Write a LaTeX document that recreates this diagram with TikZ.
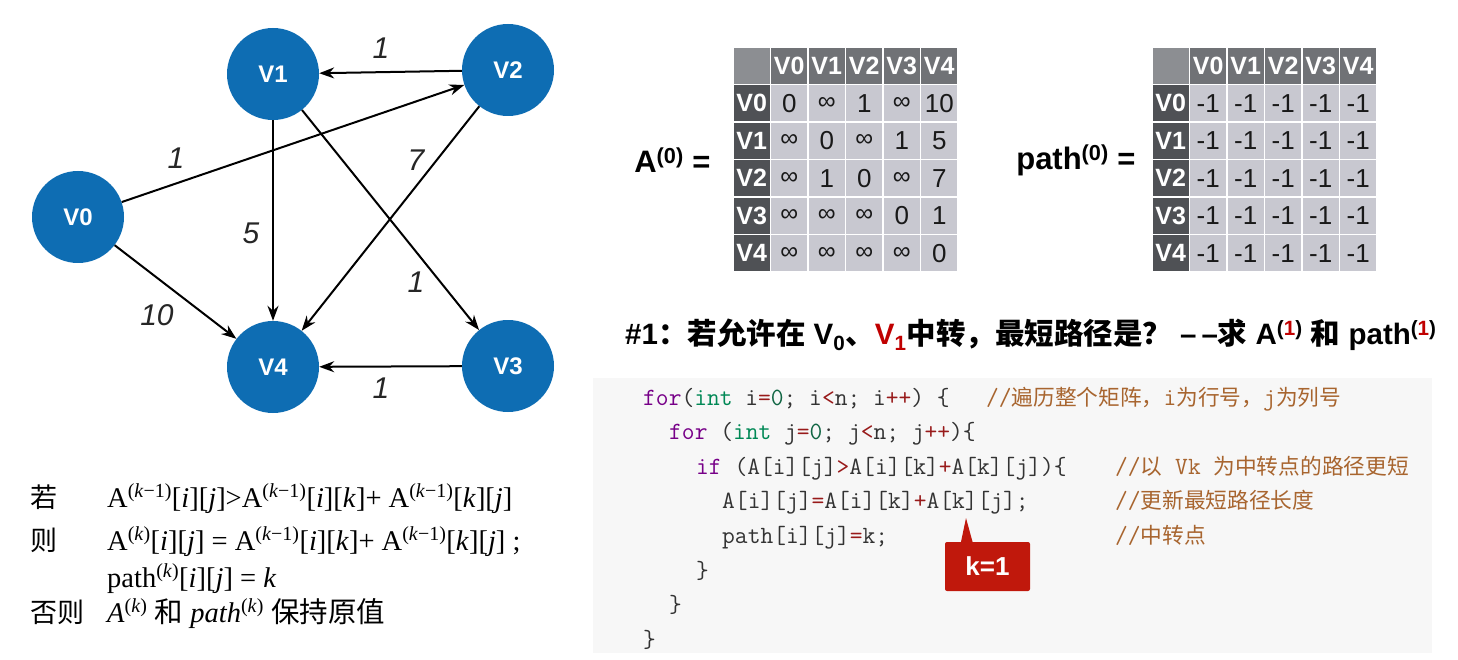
\documentclass[tikz,border=0pt]{standalone}
\usepackage{fontspec}
\setmainfont{Liberation Serif}
\setsansfont{Liberation Sans}
\newfontfamily\cjk{Noto Sans CJK SC}
\usetikzlibrary{arrows.meta}
\definecolor{nodeblue}{HTML}{0E6DB3}
\definecolor{hdr}{HTML}{707276}
\definecolor{hdrcol}{HTML}{4F5155}
\definecolor{corner}{HTML}{8C8E92}
\definecolor{cellc}{HTML}{C8C8D0}
\definecolor{codebg}{HTML}{F7F7F7}
\definecolor{kwc}{HTML}{770088}
\definecolor{tyc}{HTML}{008855}
\definecolor{numc}{HTML}{116644}
\definecolor{opc}{HTML}{981A1A}
\definecolor{cmtc}{HTML}{A8652F}
\definecolor{codetxt}{HTML}{333333}
\definecolor{calred}{HTML}{C0180C}
\definecolor{titlered}{HTML}{C00000}
\newcommand\kw[1]{\textcolor{kwc}{#1}}
\newcommand\ty[1]{\textcolor{tyc}{#1}}
\newcommand\nm[1]{\textcolor{numc}{#1}}
\newcommand\op[1]{\textcolor{opc}{#1}}
\newcommand\cj[1]{{\cjk\fontsize{21.7}{26}\selectfont #1}}
\newcommand\inff{{\fontsize{25}{25}\selectfont ∞}}
\newcommand\sps[1]{\textsuperscript{#1}}
\newcommand\km{(\textit{k}−1)}
\tikzset{
  vnode/.style={circle, fill=nodeblue, minimum size=92pt, inner sep=0pt, text=white,
    font=\sffamily\bfseries\fontsize{24}{24}\selectfont},
  earrow/.style={line width=2pt, -{Stealth[length=15pt,width=11pt]}},
  elabel/.style={font=\sffamily\itshape\fontsize{30}{30}\selectfont, text=black!85},
  mcell/.style={draw=white, line width=1.5pt, minimum size=37.5pt, inner sep=0pt,
    font=\sffamily\fontsize{26}{26}\selectfont, text=black!90},
  mhead/.style={mcell, text=white, font=\sffamily\bfseries\fontsize{25}{25}\selectfont},
  mlabel/.style={anchor=east, font=\sffamily\bfseries\fontsize{31}{31}\selectfont},
  codeline/.style={anchor=base west, inner sep=0pt, text=codetxt,
    font=\ttfamily\addfontfeatures{FakeBold=0.6}\fontsize{24.8}{28}\selectfont},
  cmtline/.style={codeline, text=cmtc},
  frm/.style={anchor=base west, inner sep=0pt, font=\fontsize{28.5}{32}\selectfont},
  frmcj/.style={anchor=base west, inner sep=0pt, font=\cjk\fontsize{27}{32}\selectfont},
}
\begin{document}
\begin{tikzpicture}[x=1pt,y=-1pt]
\fill[white] (0,0) rectangle (1458,660);
\useasboundingbox (0,0) rectangle (1458,660);

% ---------- graph ----------
\node[vnode] (V0) at (78,217) {V0};
\node[vnode] (V1) at (273,74) {V1};
\node[vnode] (V2) at (508,70) {V2};
\node[vnode] (V3) at (508,366) {V3};
\node[vnode] (V4) at (273,367) {V4};
\draw[earrow] (V2) -- (V1);
\draw[earrow] (V0) -- (V2);
\draw[earrow] (V1) -- (V4);
\draw[earrow] (V1) -- (V3);
\draw[earrow] (V2) -- (V4);
\draw[earrow] (V0) -- (V4);
\draw[earrow] (V3) -- (V4);
\node[elabel] (l21) at (381,48) {1};
\node[elabel] (l02) at (176,158) {1};
\node[elabel] (l24) at (416,160) {7};
\node[elabel] (l14) at (251,233) {5};
\node[elabel] (l13) at (416,282) {1};
\node[elabel] (l04) at (157,315) {10};
\node[elabel] (l34) at (381,388) {1};

% ---------- matrix A ----------
\node[mlabel] (Alab) at (714,160) {A\sps{(0)} =};
\node[mcell, fill=corner] (A-0-0) at (751.75,65.75) {};
\foreach \h [count=\c] in {V0,V1,V2,V3,V4} {
  \node[mhead, fill=hdr] (A-0-\c) at ({751.75+37.5*\c},65.75) {\h};
  \node[mhead, fill=hdrcol] (A-\c-0) at (751.75,{65.75+37.5*\c}) {\h};
}
\foreach \row [count=\r] in {{0,\inff,1,\inff,10},{\inff,0,\inff,1,5},{\inff,1,0,\inff,7},{\inff,\inff,\inff,0,1},{\inff,\inff,\inff,\inff,0}} {
  \foreach \v [count=\c] in \row {
    \node[mcell, fill=cellc] (A-\r-\c) at ({751.75+37.5*\c},{65.75+37.5*\r}) {\v};
  }
}

% ---------- matrix path ----------
\node[mlabel] (Plab) at (1139,160) {path\sps{(0)} =};
\node[mcell, fill=corner] (P-0-0) at (1170.75,65.75) {};
\foreach \h [count=\c] in {V0,V1,V2,V3,V4} {
  \node[mhead, fill=hdr] (P-0-\c) at ({1170.75+37.5*\c},65.75) {\h};
  \node[mhead, fill=hdrcol] (P-\c-0) at (1170.75,{65.75+37.5*\c}) {\h};
}
\foreach \r in {1,...,5} {
  \foreach \c in {1,...,5} {
    \node[mcell, fill=cellc] (P-\r-\c) at ({1170.75+37.5*\c},{65.75+37.5*\r}) {-1};
  }
}

% ---------- title ----------
\node[anchor=west, inner sep=0pt, font=\sffamily\bfseries\fontsize{29.5}{30}\selectfont] (title) at (625,335)
  {\#1{\cjk ：若允许在} V\textsubscript{0}{\cjk 、}\textcolor{titlered}{V\textsubscript{1}}{\cjk 中转，最短路径是？} –\,–{\cjk 求} A\sps{(\textcolor{titlered}{1})} {\cjk 和} path\sps{(\textcolor{titlered}{1})}};

% ---------- code ----------
\fill[codebg] (593,378) rectangle (1432,653);
\node[codeline] (c1) at (643,405) {\kw{for}(\ty{int} i\op{=}\nm{0}; i\op{<}n; i\op{++}) \{};
\node[codeline] (c2) at (669,439) {\kw{for} (\ty{int} j\op{=}\nm{0}; j\op{<}n; j\op{++})\{};
\node[codeline] (c3) at (696,474) {\kw{if} (A[i][j]\op{>}A[i][k]\op{+}A[k][j])\{};
\node[codeline] (c4) at (722,508) {A[i][j]\op{=}A[i][k]\op{+}A[k][j];};
\node[codeline] (c5) at (722,543) {path[i][j]\op{=}k;};
\node[codeline] (c6) at (696,578) {\}};
\node[codeline] (c7) at (669,612) {\}};
\node[codeline] (c8) at (643,647) {\}};
\node[cmtline] (m1) at (986,405) {//\cj{遍历整个矩阵，}i\cj{为行号，}j\cj{为列号}};
\node[cmtline] (m3) at (1115,474) {//\cj{以} Vk \cj{为中转点的路径更短}};
\node[cmtline] (m4) at (1115,508) {//\cj{更新最短路径长度}};
\node[cmtline] (m5) at (1115,543) {//\cj{中转点}};

% ---------- callout ----------
\node[fill=calred, rounded corners=2pt, minimum width=85pt, minimum height=49pt, inner sep=0pt,
  text=white, font=\sffamily\bfseries\fontsize{26}{26}\selectfont] (kbox) at (987.5,566.5) {k=1};
\coordinate (ktip) at (966,518);
\fill[calred] (ktip) -- ([xshift=16pt,yshift=-1pt]kbox.north west) -- ([xshift=28pt,yshift=-1pt]kbox.north west) -- cycle;

% ---------- formula ----------
\node[frmcj] (r1) at (30,507) {若};
\node[frm] (f1) at (107,507) {A\sps{\km}[\textit{i}][\textit{j}]>A\sps{\km}[\textit{i}][\textit{k}]+ A\sps{\km}[\textit{k}][\textit{j}]};
\node[frmcj] (r2) at (30,550) {则};
\node[frm] (f2) at (107,550) {A\sps{(\textit{k})}[\textit{i}][\textit{j}] = A\sps{\km}[\textit{i}][\textit{k}]+ A\sps{\km}[\textit{k}][\textit{j}] ;};
\node[frm] (f3) at (107,587) {path\sps{(\textit{k})}[\textit{i}][\textit{j}] = \textit{k}};
\node[frmcj] (r4) at (30,622) {否则};
\node[frm] (f4) at (107,622) {\textit{A}\sps{(\textit{k})} {\cjk 和} \textit{path}\sps{(\textit{k})} {\cjk 保持原值}};
\end{tikzpicture}
\end{document}
